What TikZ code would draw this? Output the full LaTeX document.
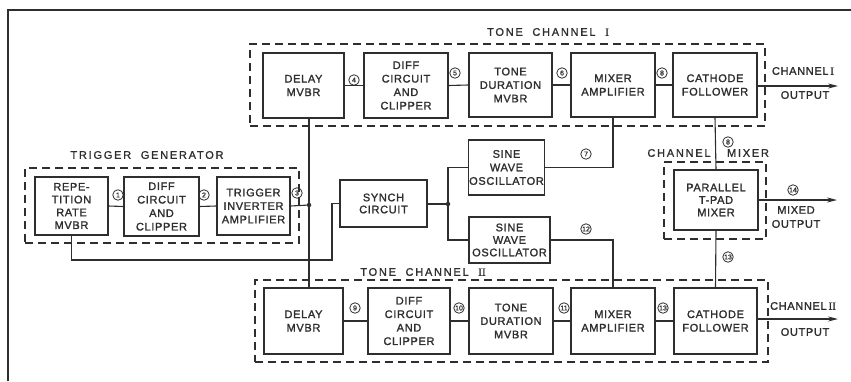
\documentclass[tikz,border=0pt]{standalone}
\usepackage{fontspec}
\usetikzlibrary{arrows.meta}
\newfontfamily\boxfont[LetterSpace=6,FakeBold=1.6]{Liberation Sans}
\newfontfamily\grpfont[LetterSpace=16,FakeBold=1.2]{Liberation Sans}
\newfontfamily\numfont[FakeBold=0.8]{Liberation Sans}
\newfontfamily\romfont[FakeBold=1.2]{Liberation Serif}
\definecolor{ink}{gray}{0.18}
\tikzset{
  box/.style={draw=ink, text=ink, line width=1.2pt, align=center, inner sep=1pt,
    font=\boxfont\fontsize{11}{13.5}\selectfont},
  grp/.style={draw=ink, dash pattern=on 8pt off 5pt, line width=1.1pt, inner sep=0pt},
  num/.style={circle, draw=ink, text=ink, line width=0.8pt, minimum size=10.5pt, inner sep=0pt,
    font=\numfont\fontsize{7}{7}\selectfont},
  wire/.style={draw=ink, line width=1.1pt},
  outarrow/.style={wire, -{Stealth[length=10pt,width=5pt]}},
  lbl/.style={text=ink, inner sep=0pt, font=\grpfont\fontsize{11}{13}\selectfont},
  olbl/.style={text=ink, inner sep=0pt, align=center, font=\boxfont\fontsize{11}{14}\selectfont},
  jdot/.style={circle, fill=ink, inner sep=0pt, minimum size=4.5pt}
}
\begin{document}
\begin{tikzpicture}[x=1pt,y=-1pt]
\useasboundingbox (0,0) rectangle (851,381);
% frame
\draw[ink, line width=2.2pt] (8,381) -- (8,10) -- (851,10);

% group boxes
\node[grp, minimum width=515, minimum height=82] (tc1) at (507.5,85) {};
\node[grp, minimum width=274, minimum height=75] (tg) at (162,205.5) {};
\node[grp, minimum width=513, minimum height=82] (tc2) at (511.5,321) {};
\node[grp, minimum width=102, minimum height=77] (cm) at (715,200.5) {};

% group labels
\node[lbl] (ltc1) at (548,32) {TONE\ \ CHANNEL\ \ {\romfont I}};
\node[lbl] (ltg) at (147,155) {TRIGGER\ \ GENERATOR};
\node[lbl] (ltc2) at (423,272) {TONE\ \ CHANNEL\ \ {\romfont II}};
\node[lbl] (lcm1) at (679,153) {CHANNEL};
\node[lbl] (lcm2) at (748,153) {MIXER};

% tone channel I
\node[box, minimum width=81, minimum height=65] (dly1) at (303.5,85.5) {DELAY\\MVBR};
\node[box, minimum width=84, minimum height=65] (dif1) at (406,85.5) {DIFF\\CIRCUIT\\AND\\CLIPPER};
\node[box, minimum width=83, minimum height=64] (dur1) at (510.5,85) {TONE\\DURATION\\MVBR};
\node[box, minimum width=84, minimum height=64] (mix1) at (613,85) {MIXER\\AMPLIFIER};
\node[box, minimum width=84, minimum height=64] (cf1) at (715,85) {CATHODE\\FOLLOWER};

% trigger generator
\node[box, minimum width=73, minimum height=58, font=\boxfont\fontsize{11}{12.8}\selectfont] (rep) at (71.5,206) {REPE-\\TITION\\RATE\\MVBR};
\node[box, minimum width=75, minimum height=59] (dif0) at (161.5,206.5) {DIFF\\CIRCUIT\\AND\\CLIPPER};
\node[box, minimum width=73, minimum height=58] (trig) at (253.5,206) {TRIGGER\\INVERTER\\AMPLIFIER};

% middle
\node[box, minimum width=87, minimum height=47, font=\boxfont\fontsize{11}{12}\selectfont] (synch) at (383.5,203.5) {SYNCH\\CIRCUIT};
\node[box, minimum width=75, minimum height=55] (sine1) at (506.5,167.5) {SINE\\WAVE\\OSCILLATOR};
\node[box, minimum width=81, minimum height=46, font=\boxfont\fontsize{11}{12.5}\selectfont] (sine2) at (509.5,240) {SINE\\WAVE\\OSCILLATOR};
\node[box, minimum width=84, minimum height=60, font=\boxfont\fontsize{11}{12.5}\selectfont] (tpad) at (716,200) {PARALLEL\\T-PAD\\MIXER};

% tone channel II
\node[box, minimum width=79, minimum height=66] (dly2) at (303.5,321) {DELAY\\MVBR};
\node[box, minimum width=82, minimum height=66] (dif2) at (409,321) {DIFF\\CIRCUIT\\AND\\CLIPPER};
\node[box, minimum width=84, minimum height=66] (dur2) at (511,321) {TONE\\DURATION\\MVBR};
\node[box, minimum width=84, minimum height=66] (mix2) at (613,321) {MIXER\\AMPLIFIER};
\node[box, minimum width=83, minimum height=66] (cf2) at (715.5,321) {CATHODE\\FOLLOWER};

% junctions and free ends
\coordinate (jn) at (309,205);
\coordinate (js) at (448,204);
\coordinate (rb) at (332,260);
\coordinate (o1) at (838,86);
\coordinate (o2) at (838,319);
\coordinate (o3) at (837,200);

% wires
\draw[wire] (rep.east) -- (dif0.west);
\draw[wire] (dif0.east) -- (trig.west);
\draw[wire] (trig.east) -- (jn);
\draw[wire] (dly1.south -| jn) -- (dly2.north -| jn);
\draw[wire] (rep.south) |- (rb) |- (synch.west);
\draw[wire] (synch.east |- js) -- (js);
\draw[wire] (js) |- (sine1.west);
\draw[wire] (js) |- (sine2.west);
\draw[wire] (sine1.east) -| (mix1.south);
\draw[wire] (sine2.east) -| (mix2.north);
\draw[wire] (dly1.east) -- (dif1.west);
\draw[wire] (dif1.east) -- (dur1.west);
\draw[wire] (dur1.east) -- (mix1.west);
\draw[wire] (mix1.east) -- (cf1.west);
\draw[wire] (dly2.east) -- (dif2.west);
\draw[wire] (dif2.east) -- (dur2.west);
\draw[wire] (dur2.east) -- (mix2.west);
\draw[wire] (mix2.east) -- (cf2.west);
\draw[wire] (cf1.south) -- (tpad.north);
\draw[wire] (tpad.south) -- (cf2.north);
\draw[outarrow] (cf1.east |- o1) -- (o1);
\draw[outarrow] (cf2.east |- o2) -- (o2);
\draw[outarrow] (tpad.east |- o3) -- (o3);
\node[jdot] (jd1) at (jn) {};
\node[jdot] (jd2) at (js) {};

% circled numbers
\node[num] (n1) at (118,195) {1};
\node[num] (n2) at (204,195) {2};
\node[num] (n3) at (297,193) {3};
\node[num] (n4) at (354,80) {4};
\node[num] (n5) at (455,73) {5};
\node[num] (n6) at (562,73) {6};
\node[num] (n8a) at (662,73) {8};
\node[num] (n7) at (586,154) {7};
\node[num] (n8b) at (728,142) {8};
\node[num] (n14) at (793,190) {14};
\node[num] (n13a) at (728,257) {13};
\node[num] (n12) at (586,229) {12};
\node[num] (n9) at (355,308) {9};
\node[num] (n10) at (459,308) {10};
\node[num] (n11) at (564,308) {11};
\node[num] (n13b) at (663,308) {13};

% output labels
\node[olbl] (lo1a) at (803,71) {CHANNEL\,{\romfont I}};
\node[olbl] (lo1b) at (805,95) {OUTPUT};
\node[olbl] (lo3) at (796,217) {MIXED\\OUTPUT};
\node[olbl] (lo2a) at (803,306) {CHANNEL\,{\romfont II}};
\node[olbl] (lo2b) at (805,332) {OUTPUT};
\end{tikzpicture}
\end{document}
